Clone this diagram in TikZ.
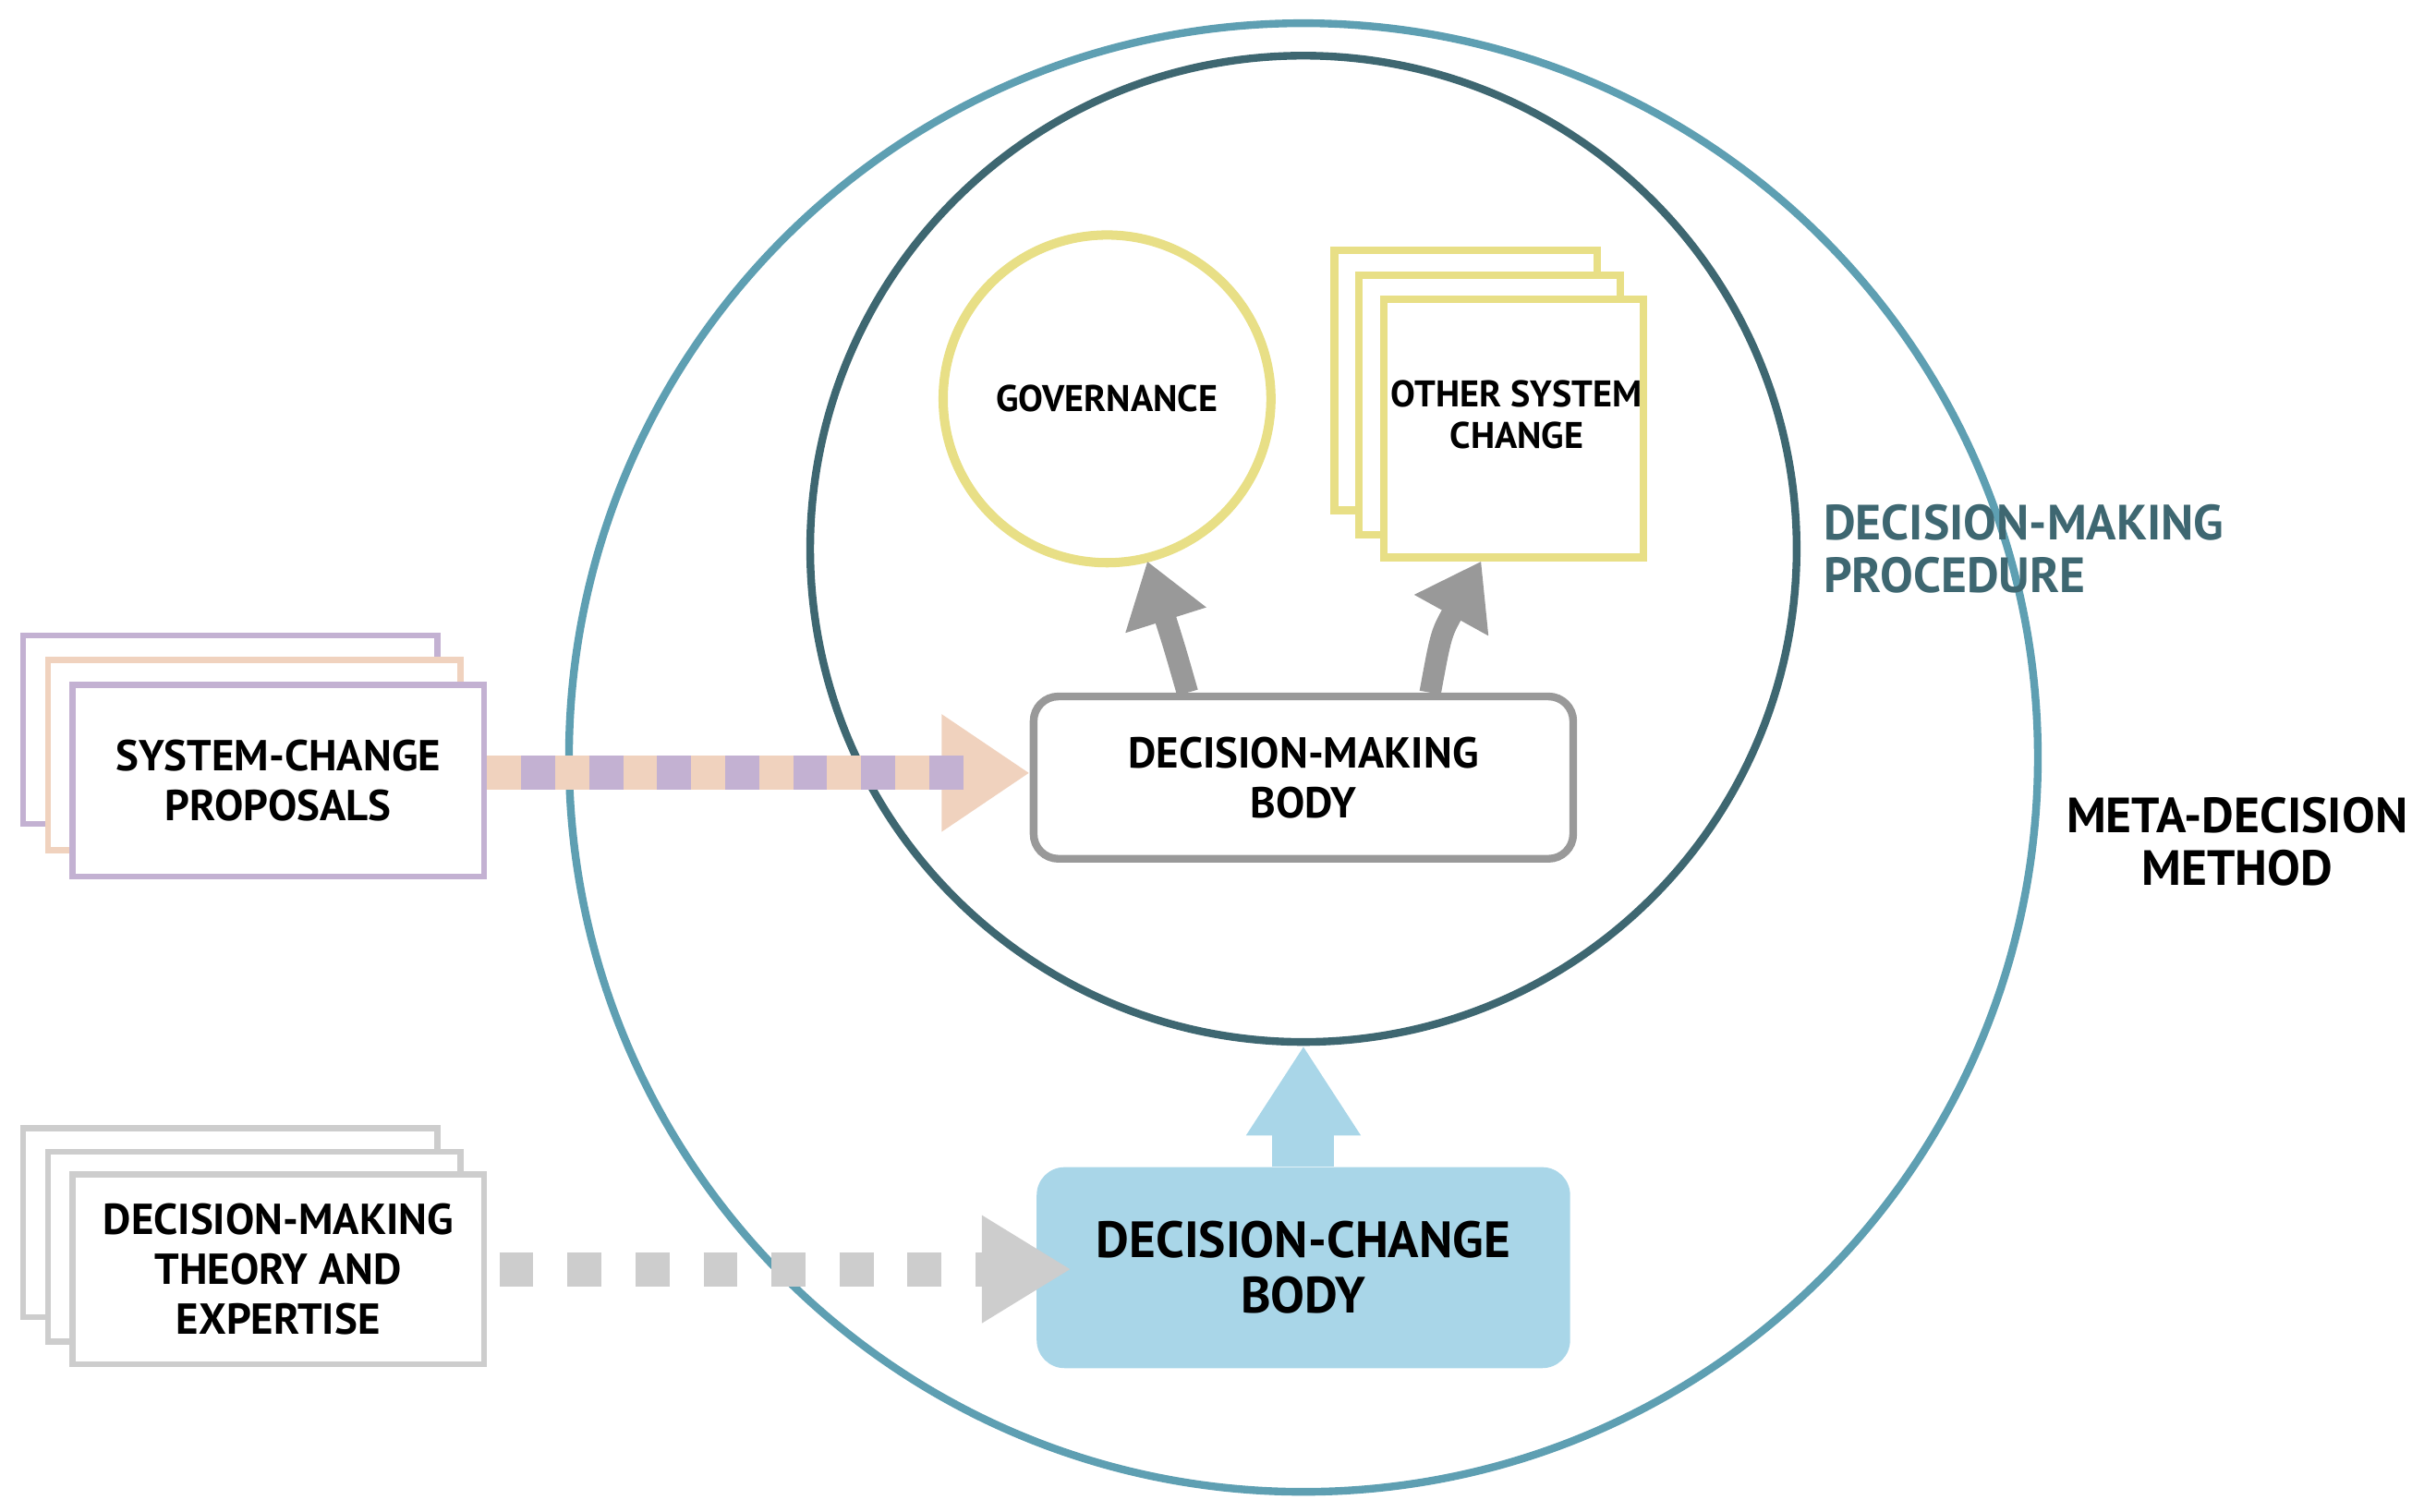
\documentclass[tikz,border=0pt]{standalone}
\usepackage{fontspec}
\setmainfont{PT Sans}
\usetikzlibrary{arrows.meta}
\definecolor{outerc}{HTML}{5E9FB2}
\definecolor{innerc}{HTML}{3E6771}
\definecolor{yel}{HTML}{E8DF86}
\definecolor{grayb}{HTML}{999999}
\definecolor{purp}{HTML}{C3B1D2}
\definecolor{peach}{HTML}{F0D2BE}
\definecolor{lgray}{HTML}{CDCDCD}
\definecolor{lblue}{HTML}{A9D6E8}
\begin{document}
\begin{tikzpicture}[x=1pt,y=-1pt,
  lab/.style={font=\fontsize{28}{32}\selectfont\bfseries,align=center,text=black},
  stk/.style={draw,line width=4pt,fill=white}]
\useasboundingbox (0,0) rectangle (1560,978);
\node[circle,draw=outerc,line width=5pt,minimum size=950pt,inner sep=0] (outer) at (843,490) {};
\node[circle,draw=innerc,line width=5pt,minimum size=638pt,inner sep=0] (inner) at (843,355) {};
\node[circle,draw=yel,line width=6pt,minimum size=212pt,inner sep=0,lab,font=\fontsize{24}{28}\selectfont\bfseries] (gov) at (716,258) {GOVERNANCE};
% other system change
\draw[stk,draw=yel,line width=5pt] (863,162) rectangle (1033,330);
\draw[stk,draw=yel,line width=5pt] (879,178) rectangle (1048,346);
\node[draw=yel,line width=5pt,fill=white,minimum width=168pt,minimum height=167pt,lab,font=\fontsize{24}{28}\selectfont\bfseries] (osc) at (979,277) {};
\node[lab,font=\fontsize{24}{27}\selectfont\bfseries] at (981,268) {OTHER SYSTEM\\CHANGE};
% decision-making body
\node[draw=grayb,line width=5pt,rounded corners=16pt,minimum width=349pt,minimum height=105pt,lab] (dmb) at (843,503) {DECISION-MAKING\\BODY};
\draw[line width=14pt,grayb,-{Triangle[length=40pt,width=52pt]}] (dmb.north -| 768,0) .. controls (760,420) .. (742,363);
\draw[line width=14pt,grayb,-{Triangle[length=40pt,width=52pt]}] (dmb.north -| 925,0) .. controls (932,410) .. (958,363);
% proposals
\draw[stk,draw=purp] (15,411) rectangle (283,533);
\draw[stk,draw=peach] (31,427) rectangle (298,550);
\node[draw=purp,line width=4pt,fill=white,minimum width=266pt,minimum height=124pt,lab] (prop) at (180,505) {SYSTEM-CHANGE\\PROPOSALS};
\draw[line width=22pt,peach,-{Triangle[length=57pt,width=72pt]}] (prop.east |- 0,500) -- (dmb.west |- 0,500);
\draw[line width=22pt,purp,dash pattern=on 22pt off 22pt,dash phase=-22pt] (prop.east |- 0,500) -- (628,500);
% theory
\draw[stk,draw=lgray] (15,730) rectangle (283,852);
\draw[stk,draw=lgray] (31,745) rectangle (298,868);
\node[draw=lgray,line width=4pt,fill=white,minimum width=266pt,minimum height=123pt,lab] (theo) at (180,821) {DECISION-MAKING\\THEORY AND\\EXPERTISE};
% decision-change body
\node[fill=lblue,rounded corners=18pt,minimum width=345pt,minimum height=130pt,lab,font=\fontsize{33}{36}\selectfont\bfseries] (dcb) at (843,820) {DECISION-CHANGE\\BODY};
\draw[line width=22pt,lgray,dash pattern=on 22pt off 22pt,dash phase=-8pt] (theo.east |- 0,821) -- (635,821);
\fill[lgray] (635,786) -- (692,821) -- (635,856) -- cycle;
\draw[line width=40pt,lblue,-{Triangle[length=58pt,width=70pt]}] (dcb.north) -- (inner.south);
% labels
\node[anchor=north west,font=\fontsize{32}{34}\selectfont\bfseries,text=innerc,align=left] (dmp) at (1176,323) {DECISION-MAKING\\PROCEDURE};
\node[anchor=north west,font=\fontsize{32}{34}\selectfont\bfseries,align=center] (mdm) at (1333,512) {META-DECISION\\METHOD};
\end{tikzpicture}
\end{document}
